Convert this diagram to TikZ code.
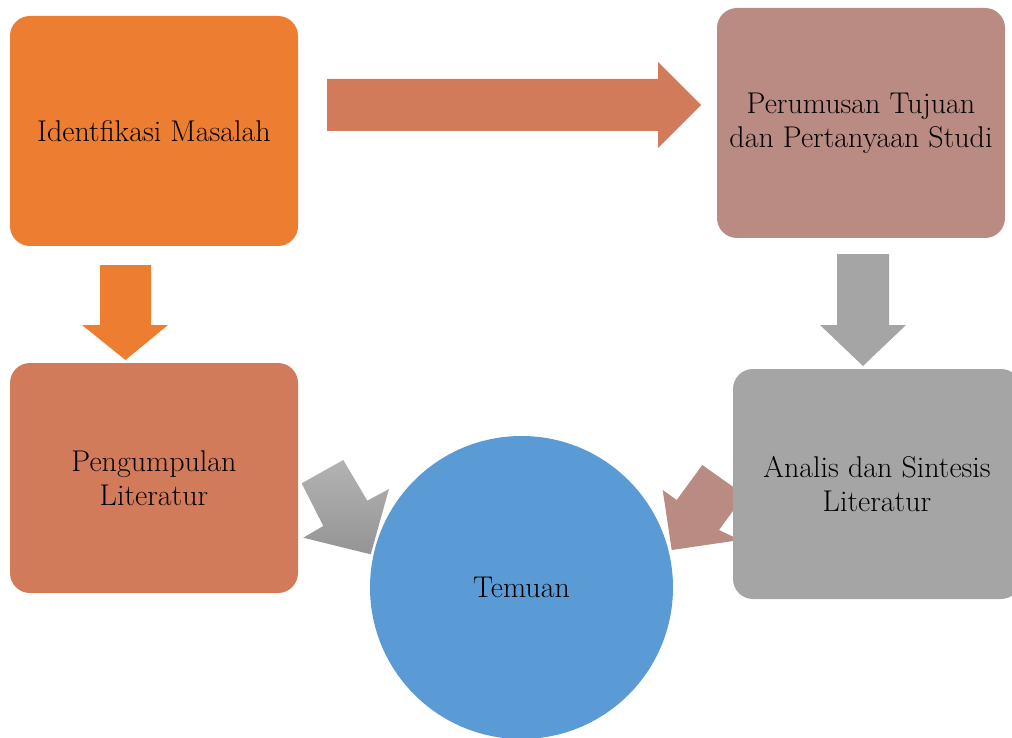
\documentclass[tikz,border=0pt]{standalone}
\definecolor{orangeA}{HTML}{ED7D31}
\definecolor{terraA}{HTML}{D27B5B}
\definecolor{roseA}{HTML}{B98B82}
\definecolor{grayA}{HTML}{A5A5A5}
\definecolor{blueA}{HTML}{5B9BD5}
\begin{document}
\begin{tikzpicture}[x=1pt,y=-1pt,
  box/.style={rectangle, rounded corners=20pt, minimum width=288pt, minimum height=230pt, inner sep=0pt, align=center, font=\fontsize{30}{34}\selectfont},
  circ/.style={circle, minimum size=303pt, inner sep=0pt, font=\fontsize{30}{34}\selectfont}]
\useasboundingbox (0,0) rectangle (1012,738);
\clip (0,0) rectangle (1012,738);
% boxes
\node[box, fill=orangeA] (idm) at (154,131) {Identfikasi Masalah};
\node[box, fill=roseA] (pts) at (861,123) {Perumusan Tujuan\\dan Pertanyaan Studi};
\node[box, fill=terraA] (pl) at (154,478) {Pengumpulan\\Literatur};
% right diagonal arrow (behind analysis box)
\fill[roseA] (671.7,550) -- (662.7,490) -- (676.7,500) -- (702.3,465) -- (744.6,495) -- (719,530) -- (740,540) -- cycle;
\node[box, fill=grayA] (asl) at (877,484) {Analis dan Sintesis\\Literatur};
\node[circ, fill=blueA] (tem) at (521.5,587.5) {Temuan};
% block arrows
\fill[terraA] (327,79) -- (658,79) -- (658,62) -- (701,105) -- (658,148) -- (658,131) -- (327,131) -- cycle;
\fill[orangeA] (100,265) -- (151,265) -- (151,325) -- (168,325) -- (125.5,360) -- (82,325) -- (100,325) -- cycle;
\fill[grayA] (837,254) -- (889,254) -- (889,325) -- (906,325) -- (863,366) -- (820,325) -- (837,325) -- cycle;
\shade[top color=grayA!85!white, bottom color=grayA!90!black] (343.3,460) -- (367.3,500.7) -- (389,489) -- (370.7,554.3) -- (303.3,537.7) -- (323.3,526) -- (301.7,483.3) -- cycle;
\end{tikzpicture}
\end{document}
